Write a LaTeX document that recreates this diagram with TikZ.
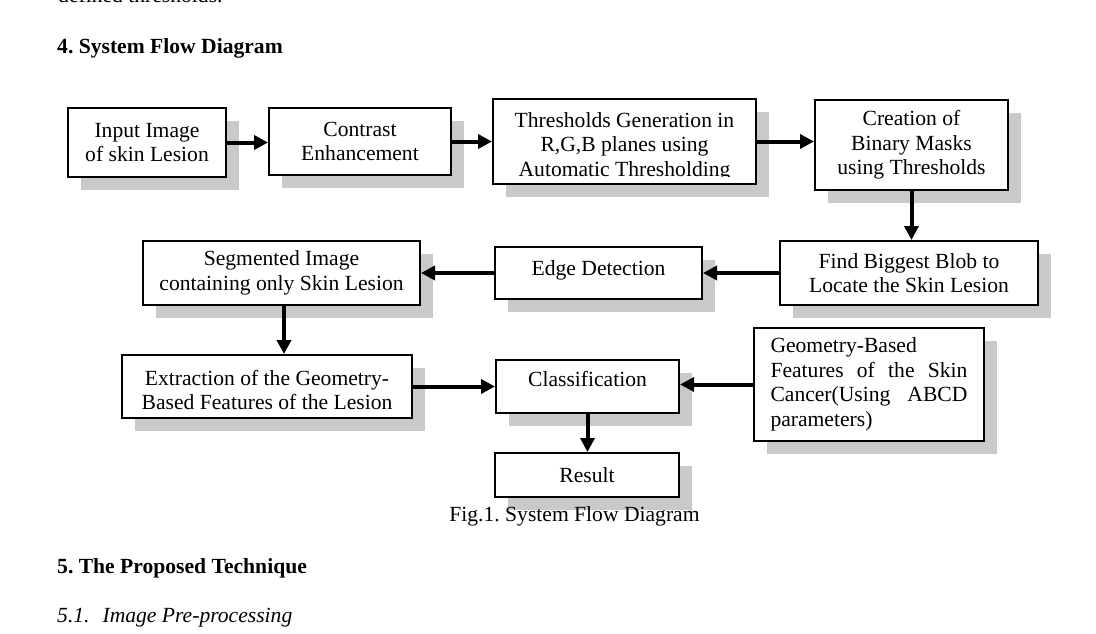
\documentclass[tikz,border=0pt]{standalone}
\usepackage{fontspec}
\setmainfont{Liberation Serif}
\usetikzlibrary{arrows.meta,shadows}
\definecolor{shadowgray}{RGB}{200,201,203}
\frenchspacing
\begin{document}
\begin{tikzpicture}[x=1pt,y=-1pt,
  every node/.style={font=\fontsize{21.6}{24.5}\selectfont, text=black},
  box/.style={draw=black, line width=2.4pt, fill=white, align=center, inner sep=0pt,
     drop shadow={shadow xshift=13pt, shadow yshift=-13pt, fill=shadowgray, opacity=1}},
  arr/.style={line width=4pt, -{Triangle[length=14pt,width=14pt]}},
  plain/.style={anchor=base west, inner sep=0pt}]
\useasboundingbox (0,0) rectangle (1096,634);
\clip (0,0) rectangle (1096,634);

% surrounding page text
\node[plain] (t0) at (58,3) {defined thresholds.};
\node[plain, font=\fontsize{21.6}{24.5}\selectfont\bfseries] (h4) at (57,54) {4. System Flow Diagram};
\node[plain, font=\fontsize{21.6}{24.5}\selectfont\bfseries] (h5) at (57,573) {5. The Proposed Technique};
\node[plain, font=\fontsize{21.6}{24.5}\selectfont\itshape] (h51) at (57,622) {5.1.\hspace{0.6em}Image Pre-processing};

% boxes
\node[box, minimum width=157.6pt, minimum height=68.6pt] (inp) at (147,142.5) {Input Image\\of skin Lesion};
\node[box, minimum width=181.6pt, minimum height=66.6pt] (con) at (360,141.5) {Contrast\\Enhancement};
\node[box, minimum width=262.6pt, minimum height=84.6pt] (thr) at (624.5,141.5) {\rule{0pt}{25pt}Thresholds Generation in\\R,G,B planes using\\Automatic Thresholding};
\fill[white] (494.5,177) rectangle (754.5,182.4);
\node[box, minimum width=192.6pt, minimum height=89.6pt] (cre) at (911.5,145) {Creation of\\Binary Masks\\using Thresholds};

\node[box, minimum width=257.6pt, minimum height=63.6pt] (blob) at (909,273) {Find Biggest Blob to\\Locate the Skin Lesion};
\node[box, minimum width=206.6pt, minimum height=51.6pt, text height=15pt, text depth=11pt] (edge) at (598.5,273) {Edge Detection};
\node[box, minimum width=276.6pt, minimum height=63.6pt] (seg) at (281.5,273) {Segmented Image\\containing only Skin Lesion};

\node[box, minimum width=289.6pt, minimum height=62.6pt] (ext) at (267,386.5) {\rule{0pt}{22pt}Extraction of the Geometry-\\Based Features of the Lesion};
\node[box, minimum width=182.6pt, minimum height=52.6pt, text height=15pt, text depth=15pt] (cls) at (587.5,386.5) {Classification};
\node[box, minimum width=229.6pt, minimum height=112.6pt, text width=197pt, align=justify] (geo) at (869,384.5) {\tolerance=10000 Geometry-Based\newline Features of the Skin\linebreak Cancer(Using ABCD\linebreak parameters)};
\node[box, minimum width=183.6pt, minimum height=43.6pt] (res) at (587,475) {Result};

\node[anchor=base, inner sep=0pt] (cap) at (574.5,521) {Fig.1. System Flow Diagram};

% connectors
\draw[arr] (inp.east) -- (inp.east -| con.west);
\draw[arr] (con.east) -- (con.east -| thr.west);
\draw[arr] (thr.east) -- (thr.east -| cre.west);
\draw[arr] (cre.south) -- (cre.south |- blob.north);
\draw[arr] (blob.west) -- (edge.east);
\draw[arr] (edge.west) -- (seg.east);
\draw[arr] ([xshift=2.5pt]seg.south) -- ([xshift=2.5pt]seg.south |- ext.north);
\draw[arr] (ext.east) -- (ext.east -| cls.west);
\draw[arr] (geo.west) -- (geo.west -| cls.east);
\draw[arr] (cls.south) -- (cls.south |- res.north);
\end{tikzpicture}
\end{document}
